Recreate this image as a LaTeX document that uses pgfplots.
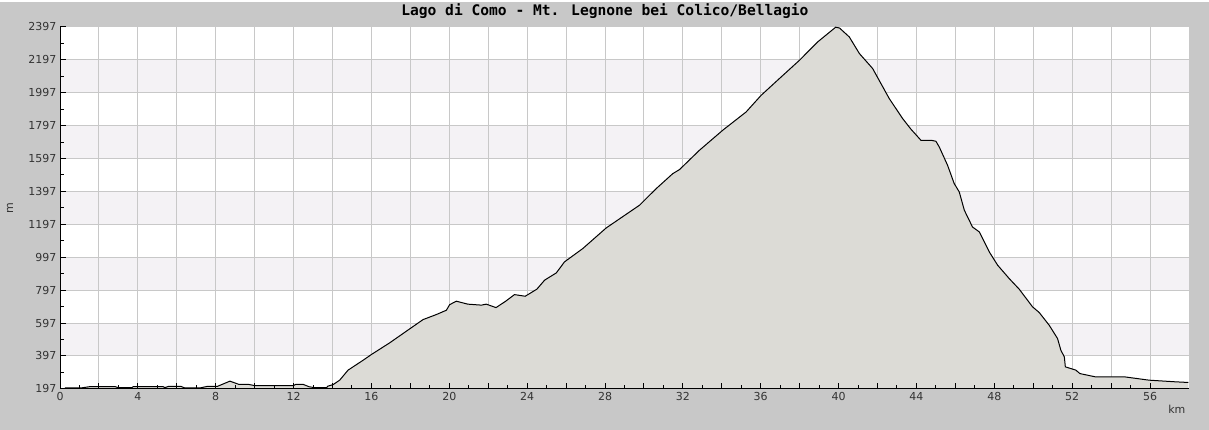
\documentclass[border=0pt]{standalone}
\usepackage{pgfplots}
\pgfplotsset{compat=1.18}
\usepackage{pgfplotstable}
\usepackage{fontspec}
\setmainfont{DejaVu Sans}
\newfontfamily\titlefont{DejaVu Sans Mono}

\definecolor{bgc}{HTML}{C8C8C8}
\definecolor{bandc}{HTML}{F4F2F5}
\definecolor{gridc}{HTML}{C8C8C8}
\definecolor{areac}{HTML}{DCDBD6}
\definecolor{labc}{HTML}{333333}

% grid below the profile, ticks and axis lines above it
\pgfplotsset{
  layers/profile/.define layer set={
    axis background,axis grid,pre main,main,axis ticks,axis lines,
    axis tick labels,axis descriptions,axis foreground
  }{/pgfplots/layers/standard},
}

\pgfplotstableread{
x y
0.25 203
1.1 203
1.5 210
2.85 210
3.0 204
3.7 204
3.75 210
5.3 210
5.4 205
5.6 213
6.2 213
6.4 203
7.2 203
7.6 213
8.1 213
8.73 244
9.2 224
9.7 224
10.0 217
12.0 217
12.1 224
12.5 224
12.8 210
13.1 204
13.7 204
13.75 213
14.03 223
14.37 250
14.8 311
15.57 371
16.0 406
16.94 477
17.8 548
18.65 618
19.34 649
19.85 675
20.02 709
20.36 730
20.95 712
21.65 706
21.9 712
22.4 691
22.9 730
23.35 770
23.9 760
24.5 803
24.9 858
25.5 902
25.92 969
26.86 1050
28.06 1175
29.77 1313
30.63 1414
31.48 1505
31.83 1530
32.85 1647
34.05 1769
35.25 1880
36.02 1981
36.96 2083
37.99 2194
38.93 2306
39.85 2395
40.05 2390
40.55 2336
41.07 2235
41.75 2144
42.6 1962
43.29 1840
43.72 1775
44.23 1708
44.75 1708
45.0 1702
45.17 1668
45.6 1556
45.94 1445
46.2 1394
46.46 1283
46.88 1181
47.23 1151
47.74 1030
48.17 949
48.77 867
49.28 803
49.97 695
50.31 661
50.82 584
51.25 503
51.42 432
51.6 391
51.65 331
52.19 311
52.4 290
53.2 270
54.7 270
55.2 262
55.95 250
57.3 240
57.97 236
}\profile

\begin{document}
\begin{tikzpicture}
\begin{axis}[
  set layers=profile,
  scale only axis, width=1129pt, height=362pt,
  xmin=0, xmax=58, ymin=197, ymax=2397,
  axis x line*=bottom, axis y line*=left,
  axis line style={black, line width=1pt, -},
  tick align=inside,
  major tick length=6pt, minor tick length=4pt,
  tick style={black, line width=1pt},
  xtick={0,2,4,6,8,10,12,14,16,18,20,22,24,26,28,30,32,34,36,38,40,42,44,46,48,50,52,54,56},
  xticklabels={0,,4,,8,,12,,16,,20,,24,,28,,32,,36,,40,,44,,48,,52,,56},
  minor x tick num=1,
  ytick={197,397,...,2397},
  minor y tick num=1,
  grid=major,
  major grid style={gridc, line width=1pt},
  /pgf/number format/1000 sep={},
  /pgf/number format/assume math mode=true,
  tick label style={font=\fontsize{11}{13}\selectfont, text=labc},
  title={Lago di Como - Mt. Legnone bei Colico/Bellagio},
  title style={font=\titlefont\bfseries\fontsize{14.6}{16}\selectfont, text=black,
    at={(rel axis cs:0.4827,1.0157)}, anchor=base},
  ylabel={m},
  ylabel style={font=\fontsize{11}{13}\selectfont, text=labc,
    at={(rel axis cs:-0.0443,0.5)}, anchor=center},
  xlabel={km},
  xlabel style={font=\fontsize{11}{13}\selectfont, text=labc,
    at={(rel axis cs:1,-0.0552)}, anchor=east},
]
\begin{pgfonlayer}{axis background}
\fill[bgc] (rel axis cs:-0.053144,-0.113260) rectangle (rel axis cs:1.017715,1.069061);
\fill[white] (axis cs:0,197) rectangle (axis cs:58,2397);
\fill[bandc] (axis cs:0,397) rectangle (axis cs:58,597);
\fill[bandc] (axis cs:0,797) rectangle (axis cs:58,997);
\fill[bandc] (axis cs:0,1197) rectangle (axis cs:58,1397);
\fill[bandc] (axis cs:0,1597) rectangle (axis cs:58,1797);
\fill[bandc] (axis cs:0,1997) rectangle (axis cs:58,2197);
\end{pgfonlayer}

\addplot[draw=none, fill=areac] table {\profile} \closedcycle;
\addplot[black, line width=1pt] table {\profile};
\end{axis}
\path (current axis.south west) ++(-60pt,-41pt) rectangle ++(1209pt,428pt);
\end{tikzpicture}
\end{document}
